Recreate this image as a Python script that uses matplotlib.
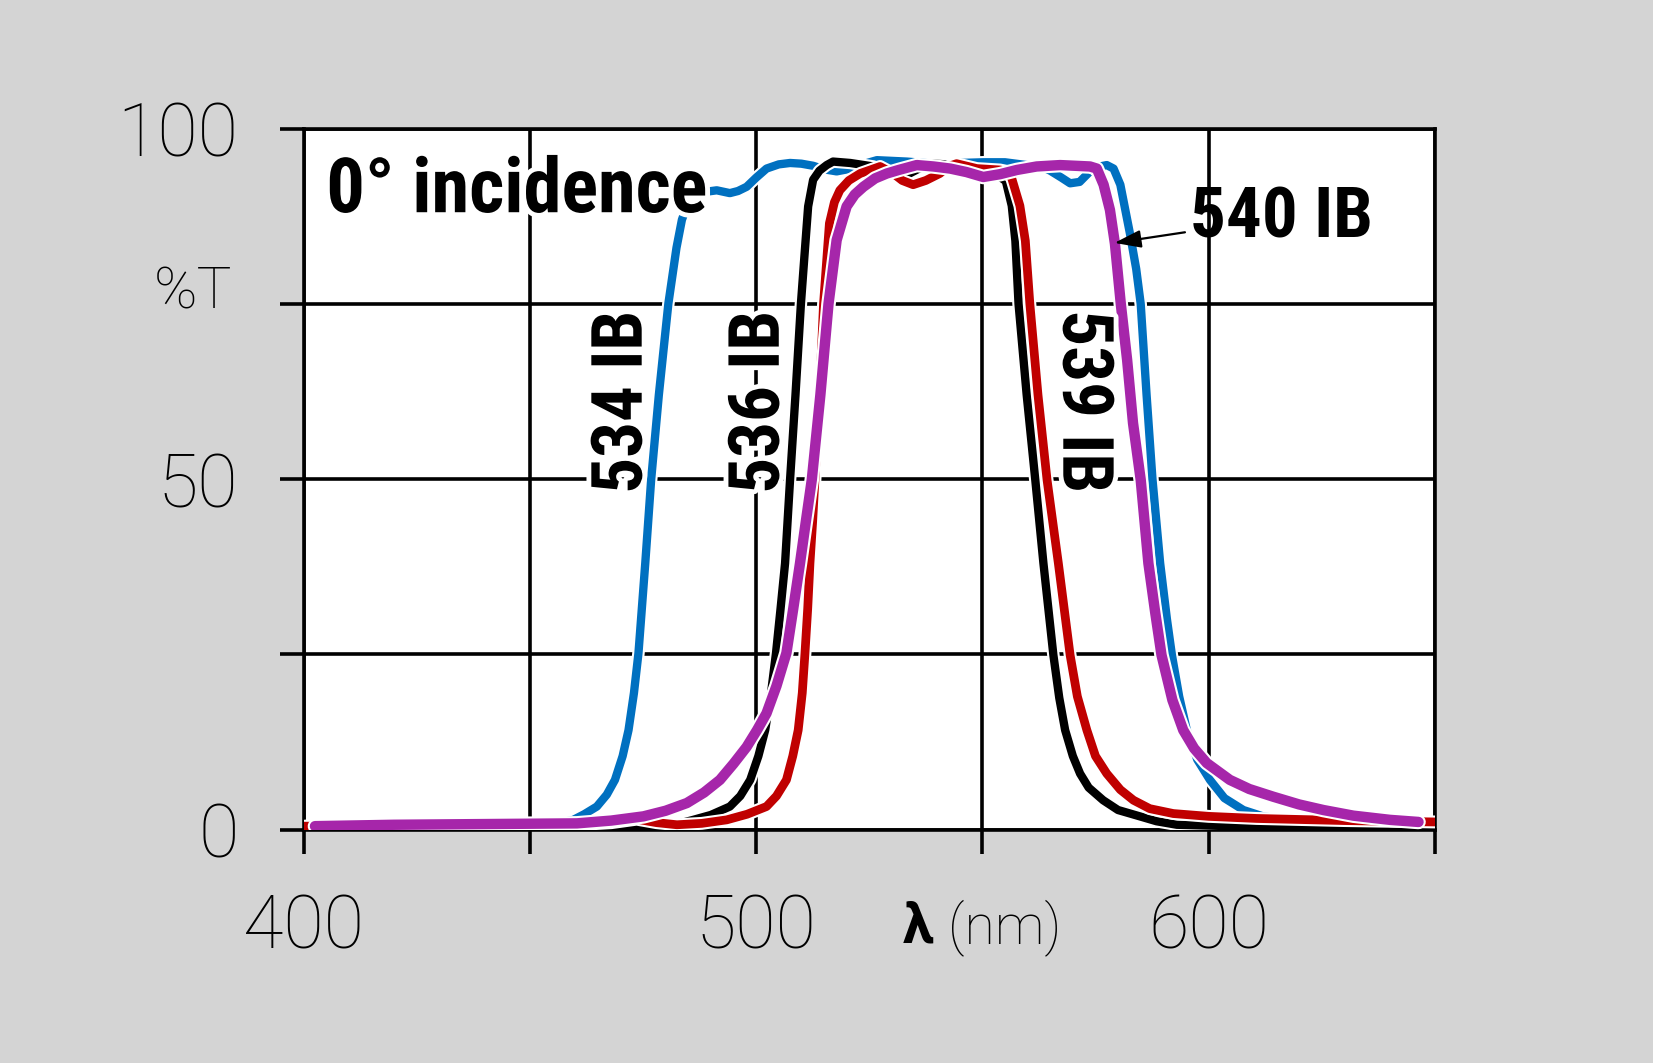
import matplotlib
matplotlib.use("Agg")
import matplotlib.pyplot as plt
import matplotlib.patheffects as pe

# ---------------- data ----------------
wl_534 = [401, 420, 440, 455, 459.6, 462, 464.8, 467, 468.8, 470.5, 471.8, 473, 474, 475.5, 476.8,
          478.5, 480.6, 481.5, 482.4, 483.6, 485, 487, 489, 491.3, 494.2, 496, 497.9, 500, 502.3, 505,
          507.5, 510, 512.6, 515, 517.8, 521, 524, 526.7, 533.3, 539.2, 545, 550.2, 555, 559.8,
          563, 565, 567.5, 569.4, 571.5, 573.8, 576, 577.5, 579, 580.5, 582.6, 584, 585, 586.3,
          587.6, 589.3, 590.8, 591.9, 593.5, 595.2, 597.5, 600.3, 603.5, 607.7, 612, 618, 630, 650]
t_534 = [0.6, 0.6, 0.7, 0.8, 1.4, 2.2, 3.3, 5.0, 7.1, 10.5, 14.2, 19.5, 25.2, 38, 49.9,
         62, 75, 79, 83, 87, 89.5, 90.5, 91.0, 91.2, 90.8, 91.1, 91.7, 93.0, 94.3, 94.9,
         95.1, 95.0, 94.7, 94.2, 93.9, 94.3, 95.0, 95.5, 95.3, 95.0, 95.1, 95.2, 95.2, 94.8,
         94.6, 94.0, 93.0, 92.2, 92.4, 93.9, 94.6, 94.8, 94.3, 92.0, 85.1, 80.0, 75.0, 62.0,
         50.0, 38.0, 30.0, 24.9, 19.0, 14.2, 10.0, 7.1, 4.5, 2.8, 1.9, 1.4, 1.1, 1.0]

wl_536 = [401, 420, 440, 460, 470, 473.6, 477, 482, 486.1, 490, 494.2, 496.5, 498.7, 500.5, 502,
          503.3, 504.4, 505.4, 506.4, 507.5, 508.7, 509.9, 510.7, 511.5, 512.6, 514, 515.6, 517,
          520.8, 525.9, 531.1, 533.3, 536, 539.2, 545, 551, 553.5, 555.2, 556.5, 557.3, 558,
          559.8, 561.7, 563.5, 565.7, 567, 568.3, 570, 571.6, 573.5, 576.7, 580, 584.8, 588.5,
          593, 605, 620, 650]
t_536 = [0.4, 0.4, 0.4, 0.4, 0.4, 0.2, 0.4, 0.7, 1.4, 2.1, 3.3, 4.8, 7.1, 10.5, 14.2,
         19.5, 25.2, 31.5, 38, 49.9, 62, 75, 82, 88.9, 92.7, 94.0, 94.8, 95.3,
         95.1, 94.6, 93.1, 93.4, 94.3, 95.0, 94.8, 93.6, 93.3, 92.5, 89, 84, 75,
         62, 49.9, 38, 24.9, 18.8, 14.2, 10.5, 8.0, 6.0, 4.2, 2.8, 1.9, 1.2,
         0.7, 0.5, 0.4, 0.4]

wl_539 = [400, 420, 440, 450, 460, 468, 473.6, 478, 482.5, 488, 493.5, 498, 502.3, 504.5, 506.7,
          508.1, 509.3, 510.2, 510.8, 511.4, 511.9, 512.5, 513.0, 514.0, 514.9, 516.2, 517.3,
          518.5, 520.5, 523, 527.4, 530.3, 532.3, 534.7, 537.5, 540.6, 542.5, 544.3, 548.8,
          553.9, 555.4, 556.5, 558.3, 559.5, 560.5, 562.3, 564.3, 566.8, 569.4, 571, 573.1,
          575, 577.5, 580.5, 583.4, 587, 592.2, 600, 610.6, 630, 650]
t_539 = [0.5, 0.5, 0.6, 0.8, 0.7, 1.0, 1.5, 1.0, 0.7, 0.9, 1.4, 2.2, 3.3, 4.8, 7.1,
         10.5, 14.2, 19.5, 25.2, 31.5, 38, 44, 49.9, 62, 75, 86.5, 89.5,
         91.2, 92.6, 93.6, 94.6, 93.6, 92.6, 92.0, 92.6, 93.6, 94.6, 95.0, 94.3,
         94.1, 93.9, 92.9, 89, 84, 75, 62, 49.9, 38, 24.9, 19, 14.2,
         10.5, 8.0, 5.7, 4.2, 3.0, 2.3, 1.9, 1.6, 1.3, 1.1]

wl_540 = [402.5, 420, 440, 460.4, 468, 475.1, 480, 484.7, 488.5, 492, 495, 497.9, 500.2, 502.3,
          504.5, 506.7, 508.2, 509.7, 511, 512.3, 514.2, 516.0, 517.8, 520, 521.8, 523.7,
          526.3, 528.9, 531.5, 535.5, 539.2, 542.9, 546.5, 550.2, 553.9, 557.6, 562, 567.2,
          573.8, 575.3, 576.8, 578.2, 579.3, 580.6, 582, 583.3, 585.0, 586.7, 588.2, 589.6,
          592, 594.4, 596.8, 599.6, 604.7, 609, 614.3, 620, 625.4, 632, 640.1, 646.4]
t_540 = [0.5, 0.7, 0.8, 0.9, 1.3, 1.9, 2.7, 3.8, 5.3, 7.1, 9.4, 11.8, 14.2, 16.6,
         20.5, 25.2, 31.5, 38, 44, 49.9, 62, 75, 84.1, 88.9, 90.6, 91.7,
         92.9, 93.6, 94.1, 94.8, 94.6, 94.3, 93.8, 93.1, 93.5, 94.1, 94.6, 94.8,
         94.6, 94.3, 92.0, 88.4, 83.6, 75, 67, 58, 49.9, 38, 31, 24.9,
         18.5, 14.2, 11.6, 9.5, 7.1, 5.8, 4.7, 3.6, 2.8, 2.0, 1.4, 1.1]

series = [
    ("534 IB", wl_534, t_534, "#0070C0", 6.0),
    ("536 IB", wl_536, t_536, "#000000", 6.0),
    ("539 IB", wl_539, t_539, "#C00000", 6.3),
    ("540 IB", wl_540, t_540, "#A626AA", 7.5),
]

x_ticks = [400, 450, 500, 550, 600, 650]
x_ticklabels = ["400", "", "500", "", "600", ""]
y_ticks = [0, 25, 50, 75, 100]
y_ticklabels = ["0", "", "50", "", "100"]

# ---------------- figure ----------------
BG = "#d4d4d4"
fig = plt.figure(figsize=(16.53, 10.63), dpi=100, facecolor=BG)
ax = fig.add_axes([0.1837, 0.2195, 0.6843, 0.6595])
ax.set_facecolor("white")
ax.set_xlim(400, 650)
ax.set_ylim(0, 100)

light = dict(family=["Roboto", "DejaVu Sans"], weight="light")
bold_narrow = ["Liberation Sans Narrow", "Roboto Condensed", "DejaVu Sans"]

ax.set_xticks(x_ticks)
ax.set_xticklabels(x_ticklabels, fontsize=53, **light)
ax.set_yticks(y_ticks)
ax.set_yticklabels(y_ticklabels, fontsize=53, **light)
ax.tick_params(axis="both", direction="out", length=17, width=2.6, color="black")
ax.tick_params(axis="x", pad=28)
ax.tick_params(axis="y", pad=30)
ax.grid(True, color="black", linewidth=2.6)
ax.set_axisbelow(True)
for s in ax.spines.values():
    s.set_linewidth(2.6)
    s.set_color("black")

for name, x, y, c, lw in series:
    ax.plot(x, y, color=c, linewidth=lw, solid_capstyle="round", solid_joinstyle="round",
            path_effects=[pe.Stroke(linewidth=lw + 3, foreground="white"), pe.Normal()], zorder=3)

txt_fx = [pe.withStroke(linewidth=7, foreground="white")]
tkw = dict(family=bold_narrow, weight="bold", color="black", path_effects=txt_fx, zorder=5)

ax.text(405.0, 91.0, "0° incidence", fontsize=55, ha="left", va="center", **tkw)
ax.text(470.4, 61.0, "534 IB", fontsize=51, rotation=90, ha="center", va="center", **tkw)
ax.text(500.7, 61.0, "536 IB", fontsize=51, rotation=90, ha="center", va="center", **tkw)
ax.text(572.2, 61.0, "539 IB", fontsize=51, rotation=-90, ha="center", va="center", **tkw)
ax.annotate("540 IB", xy=(579.2, 83.7), xytext=(596.0, 87.3), fontsize=51,
            ha="left", va="center", family=bold_narrow, weight="bold", color="black", zorder=6,
            arrowprops=dict(arrowstyle="-|>,head_length=0.9,head_width=0.3", color="black",
                            lw=1.6, shrinkA=2, shrinkB=0, mutation_scale=18))

ax.text(375.5, 76.5, "%T", fontsize=42, ha="center", va="center", clip_on=False, **light)
ax.text(535.8, -14.0, "λ", fontsize=40, ha="center", va="center", clip_on=False,
        family=["Roboto", "DejaVu Sans"], weight="bold")
ax.text(542.3, -14.0, "(nm)", fontsize=40, ha="left", va="center", clip_on=False, **light)

fig.savefig("out.png", dpi=100, facecolor=BG)
